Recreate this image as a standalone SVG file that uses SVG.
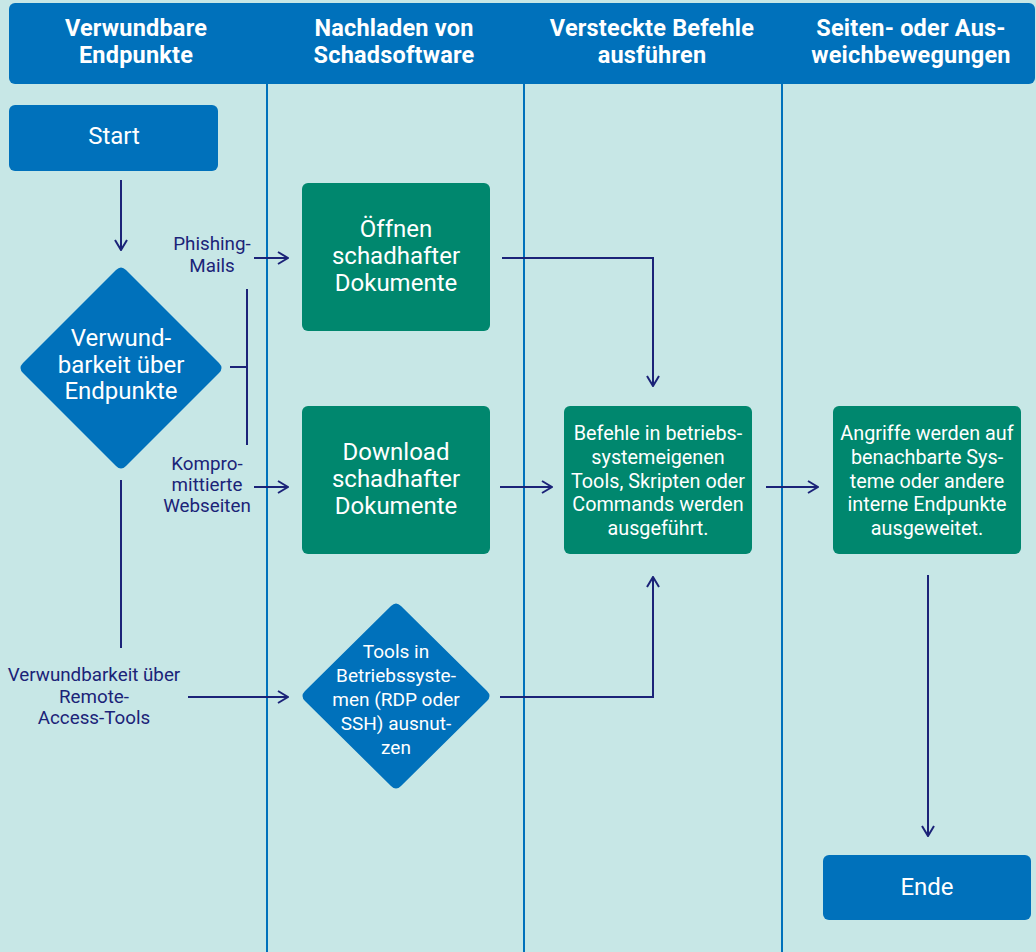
<svg xmlns="http://www.w3.org/2000/svg" width="1036" height="952" viewBox="0 0 1036 952">
<defs>
<style>
.hdr{font-family:Roboto,"Liberation Sans",sans-serif;font-weight:bold;font-size:23.5px;fill:#fff;text-anchor:middle;letter-spacing:0.2px}
.big{font-family:Roboto,"Liberation Sans",sans-serif;font-size:24px;fill:#fff;text-anchor:middle}
.sm{font-family:Roboto,"Liberation Sans",sans-serif;font-size:19px;fill:#fff;text-anchor:middle}
.box{font-family:Roboto,"Liberation Sans",sans-serif;font-size:19.8px;fill:#fff;text-anchor:middle}
.lbl{font-family:Roboto,"Liberation Sans",sans-serif;font-size:18.8px;fill:#1b2378;text-anchor:middle}
.blue{fill:#0071bb}
.green{fill:#00876e}
.lane{stroke:#0071bb;stroke-width:2;fill:none}
.con{stroke:#1b2378;stroke-width:2;fill:none}
</style>
<marker id="arr" viewBox="0 0 12 14" refX="11" refY="7" markerWidth="12" markerHeight="14" markerUnits="userSpaceOnUse" orient="auto">
<path d="M1,1 L11,7 L1,13" fill="none" stroke="#1b2378" stroke-width="2"/>
</marker>
</defs>
<rect width="1036" height="952" fill="#c7e7e6"/>
<g id="header">
<rect x="9" y="3" width="1026" height="81" rx="6" class="blue"/>
<text class="hdr" x="136" y="36">Verwundbare</text>
<text class="hdr" x="136" y="63">Endpunkte</text>
<text class="hdr" x="394" y="36">Nachladen von</text>
<text class="hdr" x="394" y="63">Schadsoftware</text>
<text class="hdr" x="652" y="36">Versteckte Befehle</text>
<text class="hdr" x="652" y="63">ausführen</text>
<text class="hdr" x="911" y="36">Seiten- oder Aus-</text>
<text class="hdr" x="911" y="63">weichbewegungen</text>
</g>
<g id="lanes">
<line class="lane" x1="267" y1="84" x2="267" y2="952"/>
<line class="lane" x1="524" y1="84" x2="524" y2="952"/>
<line class="lane" x1="782" y1="84" x2="782" y2="952"/>
</g>
<g id="connectors">
<line class="con" x1="121" y1="180" x2="121" y2="250" marker-end="url(#arr)"/>
<line class="con" x1="230" y1="367" x2="247" y2="367"/>
<line class="con" x1="247" y1="289" x2="247" y2="445"/>
<line class="con" x1="254" y1="258" x2="288" y2="258" marker-end="url(#arr)"/>
<line class="con" x1="254" y1="487" x2="288" y2="487" marker-end="url(#arr)"/>
<line class="con" x1="121" y1="480" x2="121" y2="648"/>
<line class="con" x1="188" y1="697" x2="288" y2="697" marker-end="url(#arr)"/>
<polyline class="con" points="502,258 653,258 653,386" marker-end="url(#arr)"/>
<line class="con" x1="500" y1="487" x2="552" y2="487" marker-end="url(#arr)"/>
<polyline class="con" points="500,697 653,697 653,577" marker-end="url(#arr)"/>
<line class="con" x1="766" y1="487" x2="818" y2="487" marker-end="url(#arr)"/>
<line class="con" x1="928" y1="575" x2="928" y2="836" marker-end="url(#arr)"/>
<text class="lbl" x="212" y="250">Phishing-</text>
<text class="lbl" x="212" y="272">Mails</text>
<text class="lbl" x="207" y="470">Kompro-</text>
<text class="lbl" x="207" y="491">mittierte</text>
<text class="lbl" x="207" y="512">Webseiten</text>
<text class="lbl" x="94" y="681">Verwundbarkeit über</text>
<text class="lbl" x="94" y="703">Remote-</text>
<text class="lbl" x="94" y="724">Access-Tools</text>
</g>
<g id="start">
<rect x="9" y="105" width="209" height="66" rx="6" class="blue"/>
<text class="big" x="114" y="144">Start</text>
</g>
<g id="decision1">
<path d="M116,270 Q121,265 126,270 L219,363 Q224,368 219,373 L126,466 Q121,471 116,466 L23,373 Q18,368 23,363 Z" class="blue"/>
<text class="big" x="121" y="346">Verwund-</text>
<text class="big" x="121" y="373">barkeit über</text>
<text class="big" x="121" y="399">Endpunkte</text>
</g>
<g id="oeffnen">
<rect x="302" y="183" width="188" height="148" rx="6" class="green"/>
<text class="big" x="396" y="237">Öffnen</text>
<text class="big" x="396" y="264">schadhafter</text>
<text class="big" x="396" y="291">Dokumente</text>
</g>
<g id="download">
<rect x="302" y="406" width="188" height="148" rx="6" class="green"/>
<text class="big" x="396" y="460">Download</text>
<text class="big" x="396" y="487">schadhafter</text>
<text class="big" x="396" y="514">Dokumente</text>
</g>
<g id="decision2">
<path d="M391,606 Q396,601 401,606 L487,691 Q492,696 487,701 L401,786 Q396,791 391,786 L305,701 Q300,696 305,691 Z" class="blue"/>
<text class="sm" x="396" y="658">Tools in</text>
<text class="sm" x="396" y="682">Betriebssyste-</text>
<text class="sm" x="396" y="706">men (RDP oder</text>
<text class="sm" x="396" y="730">SSH) ausnut-</text>
<text class="sm" x="396" y="754">zen</text>
</g>
<g id="befehle">
<rect x="564" y="406" width="188" height="148" rx="6" class="green"/>
<text class="box" x="658" y="440">Befehle in betriebs-</text>
<text class="box" x="658" y="464">systemeigenen</text>
<text class="box" x="658" y="488">Tools, Skripten oder</text>
<text class="box" x="658" y="511">Commands werden</text>
<text class="box" x="658" y="535">ausgeführt.</text>
</g>
<g id="angriffe">
<rect x="833" y="406" width="188" height="148" rx="6" class="green"/>
<text class="box" x="927" y="440">Angriffe werden auf</text>
<text class="box" x="927" y="464">benachbarte Sys-</text>
<text class="box" x="927" y="488">teme oder andere</text>
<text class="box" x="927" y="511">interne Endpunkte</text>
<text class="box" x="927" y="535">ausgeweitet.</text>
</g>
<g id="ende">
<rect x="823" y="855" width="208" height="65" rx="6" class="blue"/>
<text class="big" x="927" y="895">Ende</text>
</g>
</svg>
